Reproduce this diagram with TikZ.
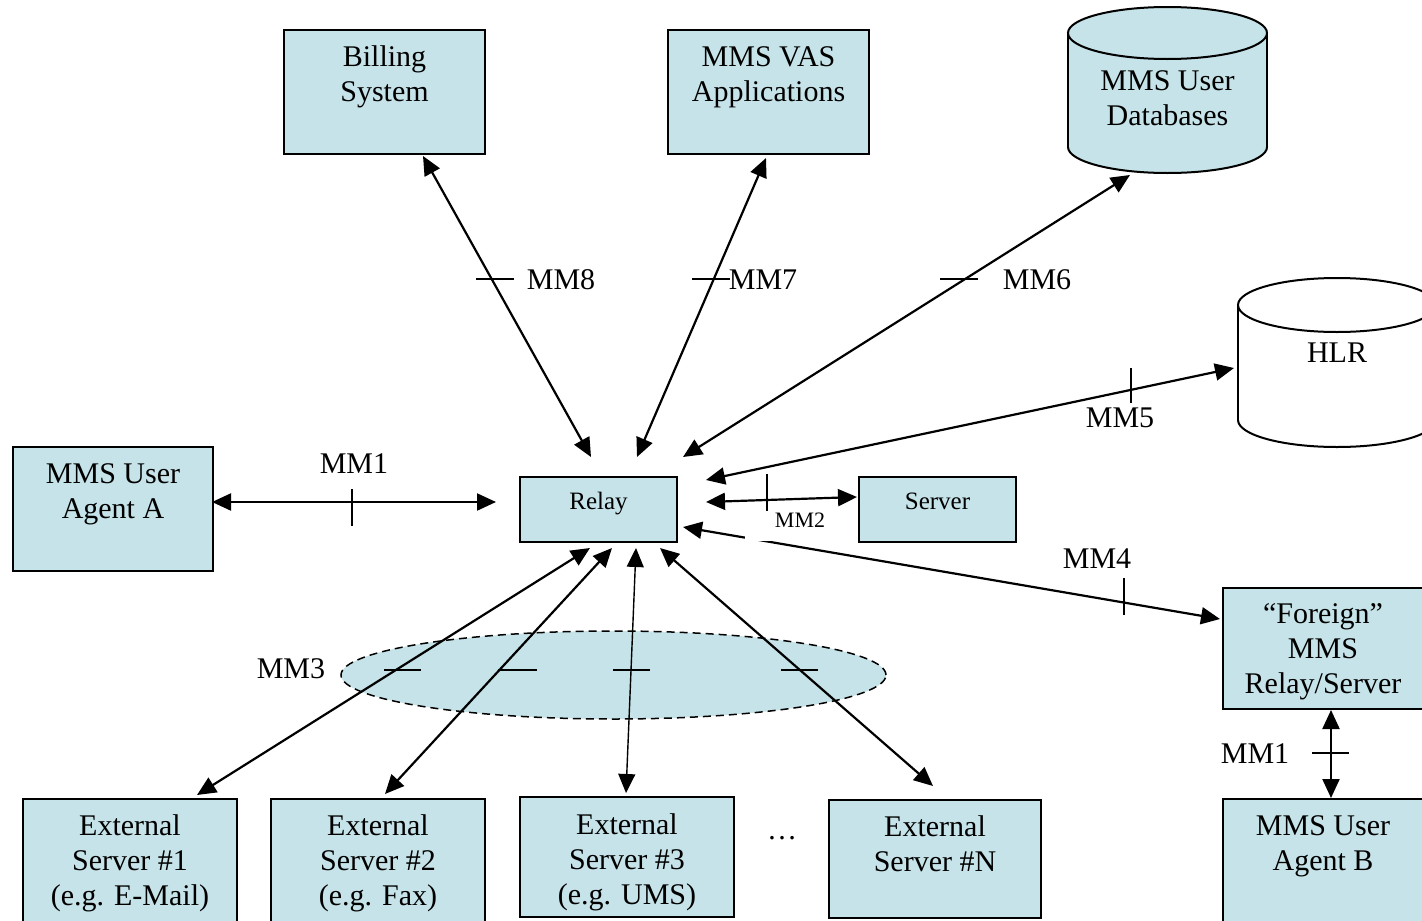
\documentclass[tikz,border=0pt]{standalone}
\usepackage{fontspec}
\setmainfont{Liberation Serif}
\usetikzlibrary{arrows.meta,shapes.geometric}
\definecolor{boxfill}{RGB}{197,227,232}
\newcommand\bigf{\fontsize{30}{35}\selectfont}
\newcommand\smallf{\fontsize{25}{29}\selectfont}
\newcommand\mmf{\fontsize{22}{26}\selectfont}
\newcommand\bxt[4]{\parbox[t][#2][t]{#1}{\centering\rule{0pt}{#3}#4}}
\begin{document}
\begin{tikzpicture}[x=1pt,y=-1pt,
  box/.style={draw=black,line width=2pt,fill=boxfill,inner sep=0pt,anchor=north west,font=\bigf},
  sbox/.style={box,font=\smallf},
  conn/.style={line width=2.2pt,{Triangle[length=19pt,width=17pt]}-{Triangle[length=19pt,width=17pt]}},
  tickmark/.style={line width=1.8pt},
  lbl/.style={font=\bigf,inner sep=0pt},
  cyl/.style={line width=2pt},
]
\useasboundingbox (0,0) rectangle (1422,921);
\clip (0,0) rectangle (1422,921);

% boxes
\node[box] (bill) at (283,29) {\bxt{201pt}{124pt}{36pt}{Billing\\System}};
\node[box] (vas) at (667,29) {\bxt{201pt}{124pt}{36pt}{MMS VAS\\Applications}};
\node[box] (uaA) at (12,446) {\bxt{200pt}{124pt}{36pt}{MMS User\\Agent A}};
\node[sbox] (relay) at (519,476) {\bxt{157pt}{65pt}{32pt}{Relay}};
\node[sbox] (server) at (858,476) {\bxt{157pt}{65pt}{32pt}{Server}};
\node[box] (foreign) at (1222,587) {\bxt{200pt}{121pt}{35pt}{“Foreign”\\MMS\\Relay/Server}};
\node[box] (uaB) at (1222,798) {\bxt{200pt}{140pt}{36pt}{MMS User\\Agent B}};
\node[box] (ext1) at (22,798) {\bxt{214pt}{140pt}{36pt}{External\\Server \#1\\(e.g. E-Mail)}};
\node[box] (ext2) at (270,798) {\bxt{214pt}{140pt}{36pt}{External\\Server \#2\\(e.g. Fax)}};
\node[box] (ext3) at (519,796) {\bxt{214pt}{120pt}{37pt}{External\\Server \#3\\(e.g. UMS)}};
\node[box] (extN) at (828,799) {\bxt{212pt}{118pt}{36pt}{External\\Server \#N}};
\node[lbl] (dots) at (782,838) {…};

% database cylinder
\fill[boxfill] (1068,33) rectangle (1267,147);
\fill[boxfill] (1167.5,147) ellipse [x radius=99.5pt, y radius=26pt];
\begin{scope}
  \clip (1060,147) rectangle (1280,180);
  \draw[cyl] (1167.5,147) ellipse [x radius=99.5pt, y radius=26pt];
\end{scope}
\draw[cyl] (1068,33) -- (1068,147) (1267,33) -- (1267,147);
\draw[cyl,fill=boxfill] (1167.5,33) ellipse [x radius=99.5pt, y radius=26pt];
\node[anchor=north,inner sep=0pt,font=\bigf] (db) at (1167.5,54) {\bxt{199pt}{100pt}{36pt}{MMS User\\Databases}};

% HLR cylinder
\fill[white] (1238,305) rectangle (1436,420);
\begin{scope}
  \clip (1230,420) rectangle (1450,460);
  \draw[cyl] (1337,420) ellipse [x radius=99pt, y radius=27pt];
\end{scope}
\draw[cyl] (1238,305) -- (1238,420);
\draw[cyl,fill=white] (1337,305) ellipse [x radius=99pt, y radius=27pt];
\node[anchor=north,inner sep=0pt,font=\bigf] (hlr) at (1337,326) {\bxt{198pt}{100pt}{36pt}{HLR}};

% MM3 ellipse
\node[ellipse,draw,dash pattern=on 8pt off 5pt,line width=1.5pt,fill=boxfill,
      minimum width=545pt,minimum height=88pt,inner sep=0pt] (mm3e) at (613.5,675) {};

% connector end points
\coordinate (bill-s) at (423,156);
\coordinate (vas-s) at (766,158);
\coordinate (db-s) at (1130,175);
\coordinate (hlr-w) at (1234,368);
\coordinate (r-n1) at (591,457);
\coordinate (r-n2) at (637,457);
\coordinate (r-n3) at (683,457);
\coordinate (r-e1) at (706,480);
\coordinate (r-e2) at (706,502);
\coordinate (r-e3) at (683,527);
\coordinate (r-w) at (496,502);
\coordinate (uaA-e) at (212,502);
\coordinate (srv-w) at (857,497);
\coordinate (for-w) at (1220,619);
\coordinate (for-s) at (1331,710);
\coordinate (uaB-n) at (1331,798);
\coordinate (r-s1) at (590,548);
\coordinate (r-s2) at (612,548);
\coordinate (r-s3) at (636,548);
\coordinate (r-s4) at (660,548);
\coordinate (e1-n) at (197,795);
\coordinate (e2-n) at (385,794);
\coordinate (e3-n) at (626,793);
\coordinate (eN-n) at (933,786);

% MM4 line (drawn first, partly hidden by MM2 label)
\draw[conn] (r-e3) -- (for-w);
\node[fill=white,inner sep=0pt,minimum width=111pt,minimum height=38pt] (mm2box) at (800.5,522) {};
\node[font=\mmf,inner sep=0pt] (l2) at (800,520) {MM2};

% connectors
\draw[conn] (bill-s) -- (r-n1);
\draw[conn] (vas-s) -- (r-n2);
\draw[conn] (db-s) -- (r-n3);
\draw[conn] (r-e1) -- (hlr-w);
\draw[conn] (uaA-e) -- (r-w);
\draw[conn] (r-e2) -- (srv-w);
\draw[conn] (for-s) -- (uaB-n);
\draw[conn] (r-s1) -- (e1-n);
\draw[conn] (r-s2) -- (e2-n);
\draw[conn,line width=1.4pt] (r-s3) -- (e3-n);
\draw[conn] (r-s4) -- (eN-n);

% tick marks
\draw[tickmark] (476,279) -- (514,279);
\draw[tickmark] (692,279) -- (730,279);
\draw[tickmark] (940,279) -- (978,279);
\draw[tickmark] (1131,368) -- (1131,403);
\draw[tickmark] (352,489) -- (352,526);
\draw[tickmark] (767,474) -- (767,511);
\draw[tickmark] (1124,578) -- (1124,615);
\draw[tickmark] (1312,753) -- (1349,753);
\draw[tickmark] (384,670) -- (421,670);
\draw[tickmark] (498,670) -- (537,670);
\draw[tickmark] (613,670) -- (650,670);
\draw[tickmark] (781,670) -- (818,670);

% labels
\node[lbl] (l8) at (561,280) {MM8};
\node[lbl] (l7) at (763,280) {MM7};
\node[lbl] (l6) at (1037,280) {MM6};
\node[lbl] (l5) at (1120,418) {MM5};
\node[lbl] (l1a) at (354,464) {MM1};
\node[lbl] (l4) at (1097,559) {MM4};
\node[lbl] (l1b) at (1255,754) {MM1};
\node[lbl] (l3) at (291,669) {MM3};
\end{tikzpicture}
\end{document}
